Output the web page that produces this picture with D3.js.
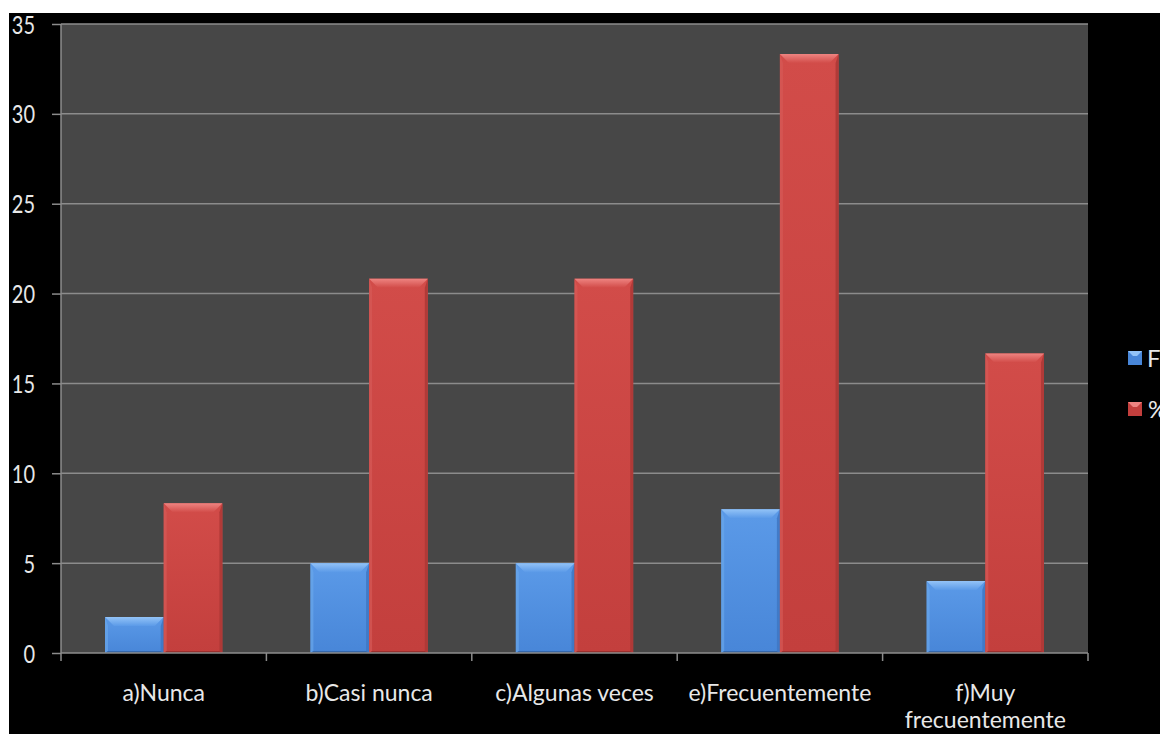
<!DOCTYPE html>
<html><head><meta charset="utf-8">
<script src="https://cdn.jsdelivr.net/npm/d3@7"></script>
<style>
html,body{margin:0;padding:0;background:#fff;}
svg{display:block;}
</style></head>
<body>
<svg id="c" width="1160" height="734"></svg>
<script>
const categories = ["a)Nunca", "b)Casi nunca", "c)Algunas veces", "e)Frecuentemente", "f)Muy frecuentemente"];
const seriesNames = ["F", "%"];
const valuesF = [2, 5, 5, 8, 4];
const valuesPct = [8.33, 20.83, 20.83, 33.33, 16.67];
const yTicks = [0, 5, 10, 15, 20, 25, 30, 35];

(function(){
const svg = d3.select("#c");
const W = 1160, H = 734;
svg.append("rect").attr("x",0).attr("y",0).attr("width",W).attr("height",H).attr("fill","#fff");
svg.append("rect").attr("x",9).attr("y",13).attr("width",W-9).attr("height",H-13).attr("fill","#000");

const pLeft = 61, pRight = 1088, pTop = 24, pBottom = 653;
const y = d3.scaleLinear().domain([0,35]).range([pBottom, pTop]);
const x = d3.scaleBand().domain(categories).range([pLeft, pRight]).paddingInner(0).paddingOuter(0);
const bw = x.bandwidth() / 3.5;
const xs = d3.scaleBand().domain(seriesNames).range([0, 2*bw]);

const defs = svg.append("defs");
const pal = {
  "F": {body:"#4886d8", light:"#5b9ae8", top:"#93c3f7", side:"#6aa6ea", rside:"#3f78c4", bot:"#3668ab"},
  "%": {body:"#c33f3d", light:"#d24c49", top:"#ee8481", side:"#d65a57", rside:"#ad3836", bot:"#9b302e"}
};
Object.entries(pal).forEach(([k,p],i)=>{
  const g = defs.append("linearGradient").attr("id","g"+i).attr("x1",0).attr("x2",0).attr("y1",0).attr("y2",1);
  g.append("stop").attr("offset","0%").attr("stop-color",p.light);
  g.append("stop").attr("offset","100%").attr("stop-color",p.body);
  const t = defs.append("linearGradient").attr("id","t"+i).attr("x1",0).attr("x2",0).attr("y1",0).attr("y2",1);
  t.append("stop").attr("offset","0%").attr("stop-color",p.top);
  t.append("stop").attr("offset","100%").attr("stop-color",p.light);
});

svg.append("rect").attr("x",pLeft).attr("y",pTop).attr("width",pRight-pLeft).attr("height",pBottom-pTop).attr("fill","#474747");

const yAxis = d3.axisLeft(y).tickValues(yTicks).tickSize(9).tickPadding(17);
const ya = svg.append("g").attr("transform",`translate(${pLeft},0)`).call(yAxis);
ya.select(".domain").attr("stroke","#8c8c8c").attr("stroke-width",1.5).attr("d",`M0,${pTop}V${pBottom}`);
ya.selectAll(".tick line").attr("stroke","#8c8c8c").attr("stroke-width",1.5);
ya.selectAll(".tick text").attr("fill","#e8e8e8").style("font-family","Lato, 'Open Sans', sans-serif").style("font-size","25px")
  .attr("text-anchor","end").attr("dy","0.36em").attr("x",0).attr("transform","translate(-26,0) scale(0.8,1)");
svg.append("g").selectAll("line").data(yTicks.filter(d=>d>0)).join("line")
  .attr("x1",pLeft).attr("x2",pRight).attr("y1",d=>y(d)).attr("y2",d=>y(d))
  .attr("stroke","#8c8c8c").attr("stroke-width",1.5);

const data = [];
categories.forEach((c,i)=>{
  data.push({cat:c, s:"F", v:valuesF[i], gi:0});
  data.push({cat:c, s:"%", v:valuesPct[i], gi:1});
});
const bars = svg.append("g").selectAll("g").data(data).join("g");
bars.each(function(d){
  const g = d3.select(this);
  const p = pal[d.s];
  const x0 = x(d.cat) + (x.bandwidth()-2*bw)/2 + xs(d.s);
  const x1 = x0 + bw;
  const y0 = y(d.v), y1 = y(0);
  const b = Math.min(9, (y1-y0)/2);
  g.append("rect").attr("x",x0).attr("y",y0).attr("width",bw).attr("height",y1-y0).attr("fill",`url(#g${d.gi})`);
  g.append("polygon").attr("points",`${x0},${y0} ${x0+3},${y0+b} ${x0+3},${y1-2} ${x0},${y1}`).attr("fill",p.side).attr("opacity",0.7);
  g.append("polygon").attr("points",`${x1},${y0} ${x1-3},${y0+b} ${x1-3},${y1-2} ${x1},${y1}`).attr("fill",p.rside).attr("opacity",0.9);
  g.append("polygon").attr("points",`${x0},${y1} ${x0+3},${y1-2} ${x1-3},${y1-2} ${x1},${y1}`).attr("fill",p.bot);
  g.append("polygon").attr("points",`${x0},${y0} ${x1},${y0} ${x1-b},${y0+b} ${x0+b},${y0+b}`).attr("fill",`url(#t${d.gi})`);
});

svg.append("line").attr("x1",pLeft).attr("x2",pRight).attr("y1",pBottom).attr("y2",pBottom).attr("stroke","#8c8c8c").attr("stroke-width",1.5);
const bounds = categories.map(c=>x(c)).concat([pRight]);
svg.append("g").selectAll("line").data(bounds).join("line")
  .attr("x1",d=>d).attr("x2",d=>d).attr("y1",pBottom).attr("y2",pBottom+8)
  .attr("stroke","#8c8c8c").attr("stroke-width",1.5);
const labLines = {"f)Muy frecuentemente":["f)Muy","frecuentemente"]};
const xl = svg.append("g");
categories.forEach(c=>{
  const lines = labLines[c] || [c];
  const t = xl.append("text").attr("x",x(c)+x.bandwidth()/2).attr("y",701)
    .attr("text-anchor","middle").attr("fill","#e8e8e8")
    .style("font-family","Lato, 'Open Sans', sans-serif").style("font-size","23px");
  lines.forEach((l,i)=>t.append("tspan").attr("x",x(c)+x.bandwidth()/2).attr("dy",i?27:0).text(l));
});

const leg = svg.append("g").selectAll("g").data(seriesNames).join("g")
  .attr("transform",(d,i)=>`translate(1128,${351+i*51})`);
leg.each(function(d){
  const g = d3.select(this); const p = pal[d];
  g.append("rect").attr("width",14).attr("height",14).attr("fill",p.body);
  g.append("polygon").attr("points","0,0 14,0 9,5 5,5").attr("fill",p.top);
  g.append("text").attr("x",d==="F"?19:20).attr("y",7).attr("dy","0.36em").attr("fill","#e8e8e8")
    .style("font-family","Lato, 'Open Sans', sans-serif").style("font-size","24px").text(d);
});
})();
</script>
</body></html>
